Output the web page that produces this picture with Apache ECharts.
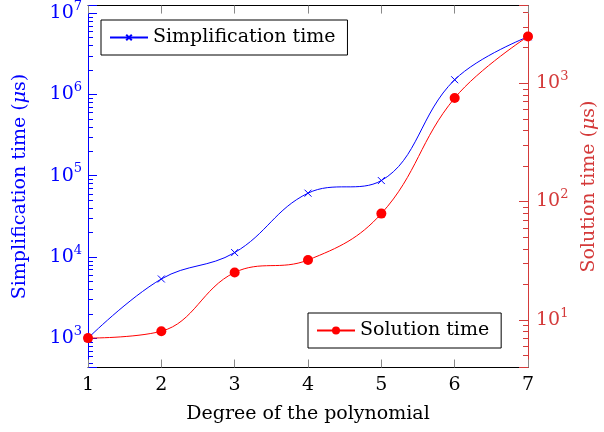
<!DOCTYPE html>
<html>
<head>
<meta charset="utf-8">
<script src="https://cdn.jsdelivr.net/npm/echarts@6/dist/echarts.min.js"></script>
</head>
<body style="margin:0">
<div id="chart" style="width:604px;height:432px"></div>
<script>
// data
const degrees = [1, 2, 3, 4, 5, 6, 7];
const simplificationTime = [1000, 5350, 11300, 60800, 86900, 1510000, 5100000];
const solutionTime = [7.0, 8.0, 25.1, 32.0, 78.9, 748, 2480];
const leftRange = [436, 12340000];
const rightRange = [3.95, 4520];

const BLUE = '#0000ff';
const RED = '#ff0000';
const RED_AX = '#d43a3a';
const FONT = 'DejaVu Serif';

// log ticks inside an axis range: majors at 10^k, minors at 2..9 x 10^k
function logTicks(range, minor) {
  const out = [];
  for (let k = -1; k <= 8; k++) {
    const mults = minor ? [2, 3, 4, 5, 6, 7, 8, 9] : [1];
    mults.forEach(m => {
      const v = m * Math.pow(10, k);
      if (v >= range[0] && v <= range[1]) out.push(v);
    });
  }
  return out;
}

function powLabel(v) {
  const e = Math.log10(v);
  if (Math.abs(e - Math.round(e)) > 1e-6) return '';
  return '{b|10}{s|' + Math.round(e) + '}';
}

function labelRich(color) {
  return {
    b: { fontFamily: FONT, fontSize: 19, color: color, lineHeight: 26, verticalAlign: 'middle' },
    s: { fontFamily: FONT, fontSize: 13, color: color, lineHeight: 26, verticalAlign: 'top' }
  };
}

const chart = echarts.init(document.getElementById('chart'));

const option = {
  animation: false,
  grid: { left: 88, right: 76, top: 2.5, bottom: 64.5, outerBoundsContain: 'axisLabel' },
  legend: [
    {
      data: ['Simplification time'], left: 101, top: 20,
      borderColor: '#000', borderWidth: 1, padding: [8, 12, 8, 8],
      itemWidth: 38, itemHeight: 7,
      textStyle: { fontFamily: FONT, fontSize: 19, color: '#000' },
      selectedMode: false
    },
    {
      data: ['Solution time'], left: 308, top: 313,
      borderColor: '#000', borderWidth: 1, padding: [8, 12, 8, 8],
      itemWidth: 38, itemHeight: 10,
      textStyle: { fontFamily: FONT, fontSize: 19, color: '#000' },
      selectedMode: false
    }
  ],
  xAxis: [
    {
      type: 'value', min: 1, max: 7, interval: 1, position: 'bottom',
      name: 'Degree of the polynomial', nameLocation: 'middle', nameGap: 37,
      nameTextStyle: { fontFamily: FONT, fontSize: 19, color: '#000' },
      axisLine: { show: true, lineStyle: { color: '#000', width: 1 } },
      axisTick: { show: true, inside: true, length: 8, lineStyle: { color: '#888', width: 1 } },
      axisLabel: { margin: 8, fontFamily: FONT, fontSize: 19, color: '#000' },
      splitLine: { show: false }
    },
    {
      type: 'value', min: 1, max: 7, interval: 1, position: 'top',
      axisLine: { show: true, lineStyle: { color: '#000', width: 1 } },
      axisTick: { show: true, inside: true, length: 8, lineStyle: { color: '#888', width: 1 } },
      axisLabel: { show: false },
      splitLine: { show: false }
    }
  ],
  yAxis: [
    {
      type: 'log', logBase: 10, min: leftRange[0], max: leftRange[1], position: 'left',
      name: 'Simplification time ({i|μ}s)', nameLocation: 'middle', nameGap: 58, nameRotate: 90,
      nameTextStyle: {
        fontFamily: FONT, fontSize: 19, color: BLUE,
        rich: { i: { fontFamily: FONT, fontSize: 19, color: BLUE, fontStyle: 'italic' } }
      },
      axisLine: { show: true, lineStyle: { color: BLUE, width: 1 } },
      axisTick: { show: true, inside: true, length: 9, lineStyle: { color: BLUE, width: 1 } },
      axisLabel: { margin: 6, formatter: powLabel, rich: labelRich(BLUE) },
      splitLine: { show: false }
    },
    {
      type: 'log', logBase: 10, min: rightRange[0], max: rightRange[1], position: 'right',
      name: 'Solution time ({i|μ}s)', nameLocation: 'middle', nameGap: 48, nameRotate: 90,
      nameTextStyle: {
        fontFamily: FONT, fontSize: 19, color: RED_AX,
        rich: { i: { fontFamily: FONT, fontSize: 19, color: RED_AX, fontStyle: 'italic' } }
      },
      axisLine: { show: true, lineStyle: { color: RED_AX, width: 1 } },
      axisTick: { show: true, inside: true, length: 9, lineStyle: { color: RED_AX, width: 1 } },
      axisLabel: { margin: 8, formatter: powLabel, rich: labelRich(RED_AX) },
      splitLine: { show: false }
    }
  ],
  series: [
    {
      name: 'Simplification time', type: 'line', xAxisIndex: 0, yAxisIndex: 0,
      data: degrees.map((d, i) => [d, simplificationTime[i]]),
      smooth: 0.4,
      symbol: 'path://M0,0L10,10M10,0L0,10', symbolSize: 7,
      itemStyle: { color: BLUE, borderColor: BLUE, borderWidth: 1 },
      lineStyle: { color: BLUE, width: 1 },
      z: 3
    },
    {
      name: 'Solution time', type: 'line', xAxisIndex: 0, yAxisIndex: 1,
      data: degrees.map((d, i) => [d, solutionTime[i]]),
      smooth: 0.4,
      symbol: 'circle', symbolSize: 10,
      itemStyle: { color: RED, borderWidth: 0 },
      lineStyle: { color: RED, width: 1 },
      z: 4
    }
  ]
};

chart.setOption(option);

// minor ticks, placed through the axes' own scales
const xLeft = chart.convertToPixel({ xAxisIndex: 0 }, 1);
const xRight = chart.convertToPixel({ xAxisIndex: 0 }, 7);
const minorGraphic = [];
logTicks(leftRange, true).forEach(v => {
  const y = Math.round(chart.convertToPixel({ yAxisIndex: 0 }, v)) + 0.5;
  minorGraphic.push({ type: 'line', silent: true, shape: { x1: xLeft, y1: y, x2: xLeft + 5, y2: y }, style: { stroke: BLUE, lineWidth: 1 } });
});
logTicks(rightRange, true).forEach(v => {
  const y = Math.round(chart.convertToPixel({ yAxisIndex: 1 }, v)) + 0.5;
  minorGraphic.push({ type: 'line', silent: true, shape: { x1: xRight - 5, y1: y, x2: xRight, y2: y }, style: { stroke: RED_AX, lineWidth: 1 } });
});
chart.setOption({ graphic: minorGraphic });
</script>
</body>
</html>
